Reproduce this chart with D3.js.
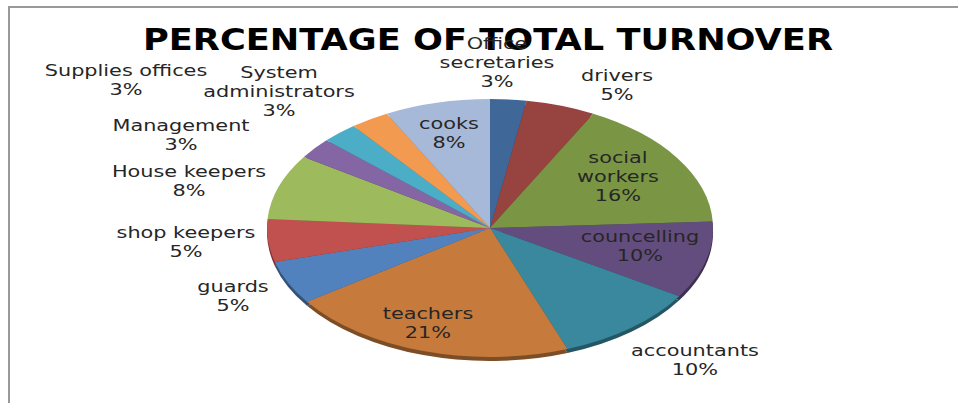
<!DOCTYPE html>
<html>
<head>
<meta charset="utf-8">
<script src="https://cdn.jsdelivr.net/npm/d3@7"></script>
<style>
  body { margin: 0; background: #fff; }
  svg { display: block; }
</style>
</head>
<body>
<svg id="chart" width="958" height="403"></svg>
<script>
// slices, clockwise from 12 o'clock
const jobs = ["Office secretaries", "drivers", "social workers", "councelling", "accountants",
  "teachers", "guards", "shop keepers", "House keepers", "Management",
  "Supplies offices", "System administrators", "cooks"];
const share = [2.6, 5.0, 16.4, 9.6, 10.4, 20.8, 5.4, 5.3, 8.1, 2.6, 2.6, 2.8, 7.6];
const sliceColors = ["#3f6898", "#974340", "#7a9645", "#634d7e", "#3a889e", "#c67a3c",
  "#5282be", "#c1514e", "#9dbb5c", "#8366a3", "#4cadc6", "#f39a51", "#a7b9d8"];
// label lines as drawn in the original (name may wrap)
const labelLines = [["Office", "secretaries"], ["drivers"], ["social", "workers"], ["councelling"],
  ["accountants"], ["teachers"], ["guards"], ["shop keepers"], ["House keepers"], ["Management"],
  ["Supplies offices"], ["System", "administrators"], ["cooks"]];
// label anchor (center x, first baseline y)
const labelPos = [[497, 49], [617, 81], [618, 163], [640, 242], [695, 356], [428, 319],
  [233, 292], [186, 238], [189, 177], [181, 131], [126, 76], [279, 78], [449, 129]];

const svg = d3.select("#chart");
const W = 958, H = 403;
const cx = 490, cy = 228, rx = 223, ry = 129, depth = 4;
const stretch = 1.3; // original font is wide

// frame
svg.append("path")
  .attr("d", `M9,${H} V7 H${W}`)
  .attr("fill", "none").attr("stroke", "#999").attr("stroke-width", 2);

const pie = d3.pie().sort(null).value(d => d);
const arcs = pie(share);
const arc = d3.arc().innerRadius(0).outerRadius(rx);

// side of the disc (shifted copy, darker)
const sideG = svg.append("g")
  .attr("transform", `translate(${cx},${cy + depth}) scale(1,${ry / rx})`);
sideG.selectAll("path").data(arcs).join("path")
  .attr("d", arc)
  .attr("fill", (d, i) => d3.color(sliceColors[i]).darker(1.3));

const faceG = svg.append("g")
  .attr("transform", `translate(${cx},${cy}) scale(1,${ry / rx})`);
faceG.selectAll("path").data(arcs).join("path")
  .attr("d", arc)
  .attr("fill", (d, i) => sliceColors[i]);

// title
svg.append("text")
  .attr("x", 488).attr("y", 50)
  .attr("text-anchor", "middle")
  .attr("font-family", "DejaVu Sans")
  .attr("font-weight", "bold")
  .attr("font-size", 30)
  .attr("textLength", 690).attr("lengthAdjust", "spacingAndGlyphs")
  .attr("fill", "#000")
  .text("PERCENTAGE OF TOTAL TURNOVER");

// data labels
const lab = svg.append("g")
  .attr("font-family", "DejaVu Sans")
  .attr("font-size", 16)
  .attr("fill", "#262626")
  .attr("text-anchor", "middle");

jobs.forEach((name, i) => {
  const lines = labelLines[i].concat([Math.round(share[i]) + "%"]);
  lines.forEach((ln, k) => {
    const t = lab.append("text")
      .attr("x", labelPos[i][0])
      .attr("y", labelPos[i][1] + k * 19)
      .text(ln);
    const w = t.node().getComputedTextLength();
    t.attr("textLength", w * stretch).attr("lengthAdjust", "spacingAndGlyphs");
  });
});
</script>
</body>
</html>
